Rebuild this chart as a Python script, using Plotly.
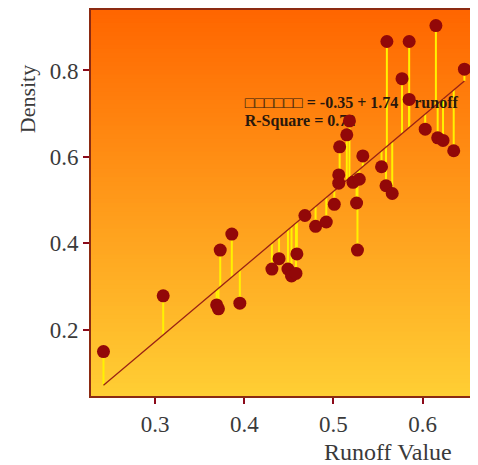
import plotly.graph_objects as go

# ---- data ----
runoff = [0.242, 0.309, 0.369, 0.371, 0.395, 0.373, 0.386, 0.431, 0.439, 0.449,
          0.453, 0.458, 0.459, 0.468, 0.480, 0.492, 0.501, 0.506, 0.506, 0.507,
          0.515, 0.518, 0.522, 0.526, 0.527, 0.529, 0.533, 0.554, 0.559, 0.560,
          0.566, 0.577, 0.585, 0.585, 0.603, 0.615, 0.617, 0.623, 0.635, 0.647]
density = [0.149, 0.278, 0.257, 0.248, 0.261, 0.384, 0.421, 0.340, 0.364, 0.340,
           0.324, 0.330, 0.375, 0.464, 0.439, 0.449, 0.490, 0.558, 0.539, 0.623,
           0.651, 0.683, 0.541, 0.493, 0.384, 0.548, 0.602, 0.577, 0.533, 0.867,
           0.515, 0.781, 0.867, 0.733, 0.664, 0.904, 0.644, 0.638, 0.614, 0.803]
intercept = -0.35
slope = 1.74
r_square = 0.72
x_ticks = [0.3, 0.4, 0.5, 0.6]
y_ticks = [0.2, 0.4, 0.6, 0.8]
eq_label = "□□□□□□ = -0.35 + 1.74 * runoff"
r2_label = "R-Square = 0.72"

# ---- derived ----
fitted = [intercept + slope * x for x in runoff]
res_x, res_y = [], []
for x, y, f in zip(runoff, density, fitted):
    res_x += [x, x, None]
    res_y += [y, f, None]
xmin, xmax = min(runoff), max(runoff)

fig = go.Figure()

# residual lines
fig.add_trace(go.Scatter(x=res_x, y=res_y, mode="lines",
                         line=dict(color="#FFF200", width=2),
                         hoverinfo="skip", showlegend=False))
# regression line
fig.add_trace(go.Scatter(x=[xmin, xmax],
                         y=[intercept + slope * xmin, intercept + slope * xmax],
                         mode="lines", line=dict(color="#9A2214", width=1.3),
                         showlegend=False))
# equation text (under points)
fig.add_trace(go.Scatter(x=[0.4005, 0.4005], y=[0.7215, 0.680], mode="text",
                         text=[eq_label, r2_label], textposition="middle right",
                         textfont=dict(family="Liberation Serif, DejaVu Sans", size=16,
                                       color="#2a180c", weight="bold"),
                         showlegend=False, hoverinfo="skip"))
# points
fig.add_trace(go.Scatter(x=runoff, y=density, mode="markers",
                         marker=dict(color="#920808", size=13, line=dict(width=0)),
                         showlegend=False))

# gradient background
n = 90
top = (255, 102, 0)
bot = (255, 206, 52)
shapes = []
for i in range(n):
    t = i / (n - 1)
    c = tuple(round(bot[k] + (top[k] - bot[k]) * t) for k in range(3))
    shapes.append(dict(type="rect", xref="paper", yref="paper",
                       x0=0, x1=1, y0=i / n, y1=(i + 1) / n + 0.002,
                       fillcolor="rgb(%d,%d,%d)" % c, line=dict(width=0),
                       layer="below"))

axis_common = dict(showgrid=False, zeroline=False, showline=True, mirror=True,
                   linecolor="#8B2A12", linewidth=2, ticks="outside",
                   tickcolor="#8B0A1A", ticklen=6, tickwidth=2,
                   tickfont=dict(family="Liberation Serif", size=23, color="#3a3a3a"))

fig.update_layout(
    width=470, height=457,
    margin=dict(l=83, r=1, t=0, b=69),
    paper_bgcolor="white", plot_bgcolor="#FFA020",
    shapes=shapes,
    xaxis=dict(range=[0.228, 0.66], tickvals=x_ticks,
               ticktext=[str(v) for v in x_ticks], **axis_common),
    yaxis=dict(range=[0.046, 0.94], tickvals=y_ticks,
               ticktext=[str(v) for v in y_ticks], **axis_common),
    annotations=[
        dict(text="Runoff Value", xref="paper", yref="paper", x=0.772, y=-0.144,
             xanchor="center", yanchor="middle", showarrow=False,
             font=dict(family="Liberation Serif", size=24, color="#3a3a3a")),
        dict(text="Density", xref="paper", yref="paper", x=-0.166, y=0.769,
             xanchor="center", yanchor="middle", showarrow=False, textangle=-90,
             font=dict(family="Liberation Serif", size=22, color="#3a3a3a")),
    ],
)

fig.write_html("out.html")
